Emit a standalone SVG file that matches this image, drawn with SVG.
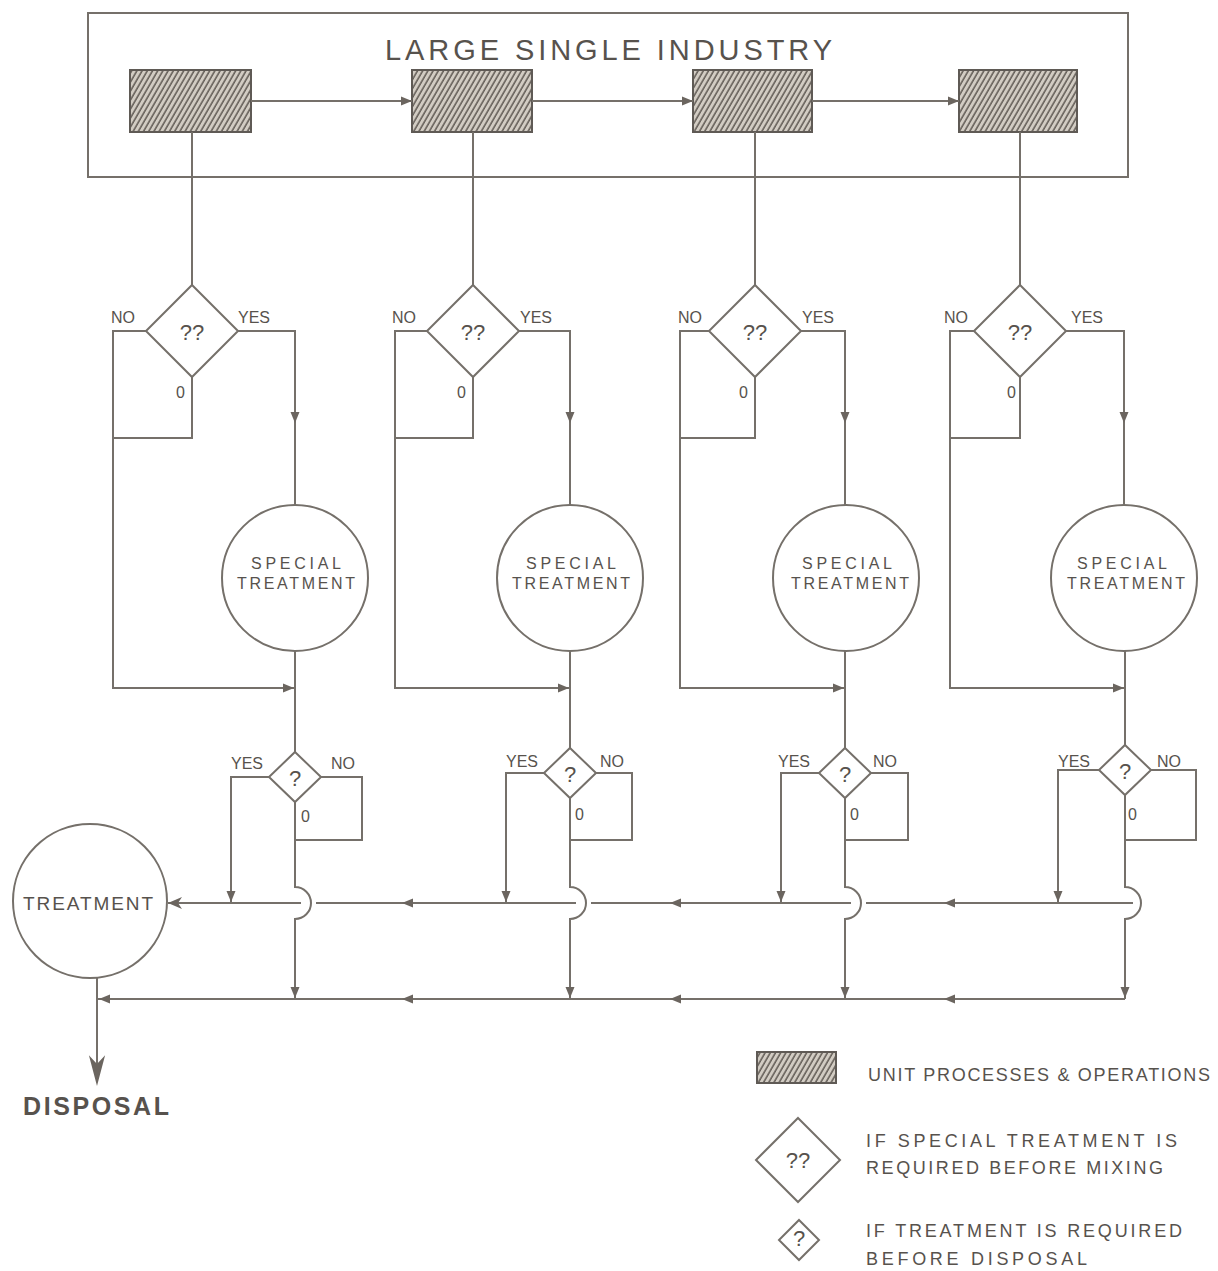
<svg xmlns="http://www.w3.org/2000/svg" xmlns:xlink="http://www.w3.org/1999/xlink" width="1218" height="1271" viewBox="0 0 1218 1271">
<style>
.ln{fill:none;stroke:#75706a;stroke-width:2}
.nd{fill:#ffffff;stroke:#75706a;stroke-width:2}
.hb{fill:url(#hatch);stroke:#5f5a55;stroke-width:2}
.t{font-family:"Liberation Sans",Arial,sans-serif;fill:#57524d}
.lab{font-size:16px}
.q{font-size:22px;text-anchor:middle}
.st{font-size:16px;text-anchor:middle}
.lg{font-size:18px}
.ah{fill:#6b655f}
</style>
<defs>
<pattern id="hatch" patternUnits="userSpaceOnUse" width="4.5" height="4.5" patternTransform="rotate(30)">
<rect width="4.5" height="4.5" fill="#d2ccc3"/>
<line x1="1" y1="0" x2="1" y2="4.5" stroke="#5f5953" stroke-width="1.5"/>
</pattern>
<path id="ah" d="M0,0 L-11,-4.5 L-11,4.5 Z"/>
<path id="ahb" d="M0,0 L-14,-6 L-10,0 L-14,6 Z"/>
</defs>
<rect width="1218" height="1271" fill="#ffffff"/>

<g id="industry">
<rect class="nd" x="88" y="13" width="1040" height="164"/>
<text class="t" x="385" y="60" font-size="29" textLength="447" lengthAdjust="spacing">LARGE SINGLE INDUSTRY</text>
</g>
<g id="unit1"><rect class="hb" x="130" y="70" width="121" height="62"/></g>
<g id="unit2"><rect class="hb" x="412" y="70" width="120" height="62"/></g>
<g id="unit3"><rect class="hb" x="693" y="70" width="119" height="62"/></g>
<g id="unit4"><rect class="hb" x="959" y="70" width="118" height="62"/></g>

<g id="connectors">
<path class="ln" d="M251,101 H412 M532,101 H693 M812,101 H959"/>
<g class="ah">
<use xlink:href="#ah" transform="translate(412,101)"/>
<use xlink:href="#ah" transform="translate(693,101)"/>
<use xlink:href="#ah" transform="translate(959,101)"/>
</g>
<!-- column 1 -->
<path class="ln" d="M192,132 V285 M146,331 H113 V688 H295 M192,377 V438 H113 M238,331 H295 V505 M295,651 V752 M269,777 H231 V903 M321,777 H362 V840 H295 M295,802 V887 A16,16 0 0 1 295,919 V999"/>
<!-- column 2 -->
<path class="ln" d="M473,132 V285 M427,331 H395 V688 H570 M473,377 V438 H395 M519,331 H570 V505 M570,651 V748 M544,773 H506 V903 M596,773 H632 V840 H570 M570,798 V887 A16,16 0 0 1 570,919 V999"/>
<!-- column 3 -->
<path class="ln" d="M755,132 V285 M709,331 H680 V688 H845 M755,377 V438 H680 M801,331 H845 V505 M845,651 V748 M819,773 H781 V903 M871,773 H908 V840 H845 M845,798 V887 A16,16 0 0 1 845,919 V999"/>
<!-- column 4 -->
<path class="ln" d="M1020,132 V285 M974,331 H950 V688 H1125 M1020,377 V438 H950 M1066,331 H1124 V505 M1125,651 V745 M1099,770 H1058 V903 M1151,770 H1196 V840 H1125 M1125,795 V887 A16,16 0 0 1 1125,919 V999"/>
<!-- collectors -->
<path class="ln" d="M168,903 H301 M316,903 H576 M591,903 H851 M866,903 H1133"/>
<path class="ln" d="M1125,999 H97 M97,978 V1080"/>
<g class="ah">
<use xlink:href="#ah" transform="translate(295,423) rotate(90)"/>
<use xlink:href="#ah" transform="translate(570,423) rotate(90)"/>
<use xlink:href="#ah" transform="translate(845,423) rotate(90)"/>
<use xlink:href="#ah" transform="translate(1124,423) rotate(90)"/>
<use xlink:href="#ah" transform="translate(294,688)"/>
<use xlink:href="#ah" transform="translate(569,688)"/>
<use xlink:href="#ah" transform="translate(844,688)"/>
<use xlink:href="#ah" transform="translate(1124,688)"/>
<use xlink:href="#ah" transform="translate(231,902) rotate(90)"/>
<use xlink:href="#ah" transform="translate(506,902) rotate(90)"/>
<use xlink:href="#ah" transform="translate(781,902) rotate(90)"/>
<use xlink:href="#ah" transform="translate(1058,902) rotate(90)"/>
<use xlink:href="#ah" transform="translate(295,998) rotate(90)"/>
<use xlink:href="#ah" transform="translate(570,998) rotate(90)"/>
<use xlink:href="#ah" transform="translate(845,998) rotate(90)"/>
<use xlink:href="#ah" transform="translate(1125,998) rotate(90)"/>
<use xlink:href="#ah" transform="translate(402,903) rotate(180)"/>
<use xlink:href="#ah" transform="translate(670,903) rotate(180)"/>
<use xlink:href="#ah" transform="translate(944,903) rotate(180)"/>
<use xlink:href="#ah" transform="translate(402,999) rotate(180)"/>
<use xlink:href="#ah" transform="translate(670,999) rotate(180)"/>
<use xlink:href="#ah" transform="translate(944,999) rotate(180)"/>
<use xlink:href="#ah" transform="translate(99,999) rotate(180)"/>
<use xlink:href="#ahb" transform="translate(168,903) rotate(180)"/>
<use xlink:href="#ahb" transform="translate(97,1086) rotate(90) scale(2.2,1.35)"/>
</g>
</g>

<!-- decision diamonds (special treatment) -->
<g id="dec1"><path class="nd" d="M192,285 L238,331 L192,377 L146,331 Z"/>
<text class="t q" x="192" y="340">??</text>
<text class="t lab" x="111" y="323">NO</text><text class="t lab" x="238" y="323">YES</text><text class="t lab" x="176" y="398">0</text></g>
<g id="dec2"><path class="nd" d="M473,285 L519,331 L473,377 L427,331 Z"/>
<text class="t q" x="473" y="340">??</text>
<text class="t lab" x="392" y="323">NO</text><text class="t lab" x="520" y="323">YES</text><text class="t lab" x="457" y="398">0</text></g>
<g id="dec3"><path class="nd" d="M755,285 L801,331 L755,377 L709,331 Z"/>
<text class="t q" x="755" y="340">??</text>
<text class="t lab" x="678" y="323">NO</text><text class="t lab" x="802" y="323">YES</text><text class="t lab" x="739" y="398">0</text></g>
<g id="dec4"><path class="nd" d="M1020,285 L1066,331 L1020,377 L974,331 Z"/>
<text class="t q" x="1020" y="340">??</text>
<text class="t lab" x="944" y="323">NO</text><text class="t lab" x="1071" y="323">YES</text><text class="t lab" x="1007" y="398">0</text></g>

<!-- special treatment circles -->
<g id="special1"><circle class="nd" cx="295" cy="578" r="73"/>
<text class="t st" x="296" y="569" textLength="90" lengthAdjust="spacing">SPECIAL</text>
<text class="t st" x="296" y="589" textLength="118" lengthAdjust="spacing">TREATMENT</text></g>
<g id="special2"><circle class="nd" cx="570" cy="578" r="73"/>
<text class="t st" x="571" y="569" textLength="90" lengthAdjust="spacing">SPECIAL</text>
<text class="t st" x="571" y="589" textLength="118" lengthAdjust="spacing">TREATMENT</text></g>
<g id="special3"><circle class="nd" cx="846" cy="578" r="73"/>
<text class="t st" x="847" y="569" textLength="90" lengthAdjust="spacing">SPECIAL</text>
<text class="t st" x="850" y="589" textLength="118" lengthAdjust="spacing">TREATMENT</text></g>
<g id="special4"><circle class="nd" cx="1124" cy="578" r="73"/>
<text class="t st" x="1122" y="569" textLength="90" lengthAdjust="spacing">SPECIAL</text>
<text class="t st" x="1126" y="589" textLength="118" lengthAdjust="spacing">TREATMENT</text></g>

<!-- small decision diamonds (treatment) -->
<g id="sdec1"><path class="nd" d="M295,752 L321,777 L295,802 L269,777 Z"/>
<text class="t q" x="295" y="786" font-size="20">?</text>
<text class="t lab" x="231" y="769">YES</text><text class="t lab" x="331" y="769">NO</text><text class="t lab" x="301" y="822">0</text></g>
<g id="sdec2"><path class="nd" d="M570,748 L596,773 L570,798 L544,773 Z"/>
<text class="t q" x="570" y="782" font-size="20">?</text>
<text class="t lab" x="506" y="767">YES</text><text class="t lab" x="600" y="767">NO</text><text class="t lab" x="575" y="820">0</text></g>
<g id="sdec3"><path class="nd" d="M845,748 L871,773 L845,798 L819,773 Z"/>
<text class="t q" x="845" y="782" font-size="20">?</text>
<text class="t lab" x="778" y="767">YES</text><text class="t lab" x="873" y="767">NO</text><text class="t lab" x="850" y="820">0</text></g>
<g id="sdec4"><path class="nd" d="M1125,745 L1151,770 L1125,795 L1099,770 Z"/>
<text class="t q" x="1125" y="779" font-size="20">?</text>
<text class="t lab" x="1058" y="767">YES</text><text class="t lab" x="1157" y="767">NO</text><text class="t lab" x="1128" y="820">0</text></g>

<g id="treatment"><circle class="nd" cx="90" cy="901" r="77"/>
<text class="t" x="23" y="910" font-size="19" textLength="130" lengthAdjust="spacing">TREATMENT</text></g>
<g id="disposal"><text class="t" x="23" y="1115" font-size="25" font-weight="bold" textLength="146" lengthAdjust="spacing">DISPOSAL</text></g>

<g id="legend">
<rect class="hb" x="757" y="1052" width="79" height="31"/>
<text class="t lg" x="868" y="1081" textLength="342" lengthAdjust="spacing">UNIT PROCESSES &amp; OPERATIONS</text>
<path class="nd" d="M798,1118 L840,1160 L798,1202 L756,1160 Z"/>
<text class="t q" x="798" y="1168" font-size="20">??</text>
<text class="t lg" x="866" y="1147" textLength="311" lengthAdjust="spacing">IF SPECIAL TREATMENT  IS</text>
<text class="t lg" x="866" y="1174" textLength="297" lengthAdjust="spacing">REQUIRED  BEFORE MIXING</text>
<path class="nd" d="M799,1220 L819,1240 L799,1260 L779,1240 Z"/>
<text class="t q" x="799" y="1246" font-size="16">?</text>
<text class="t lg" x="866" y="1237" textLength="316" lengthAdjust="spacing">IF TREATMENT IS REQUIRED</text>
<text class="t lg" x="866" y="1265" textLength="221" lengthAdjust="spacing">BEFORE  DISPOSAL</text>
</g>
</svg>
